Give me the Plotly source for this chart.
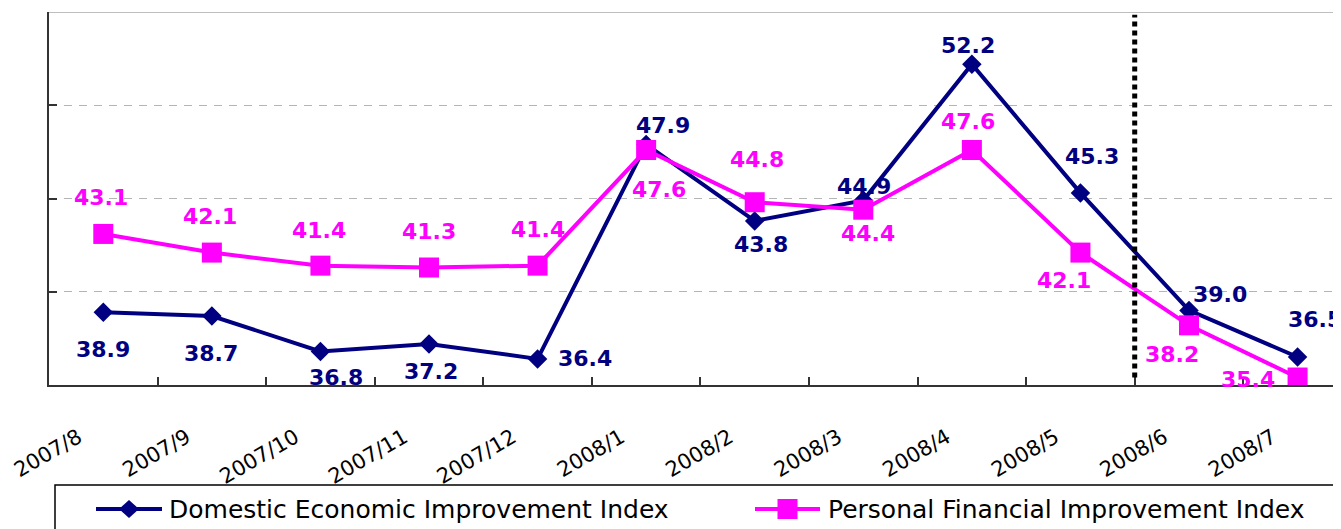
import plotly.graph_objects as go

categories = ["2007/8", "2007/9", "2007/10", "2007/11", "2007/12", "2008/1",
              "2008/2", "2008/3", "2008/4", "2008/5", "2008/6", "2008/7"]
domestic = [38.9, 38.7, 36.8, 37.2, 36.4, 47.9, 43.8, 44.9, 52.2, 45.3, 39.0, 36.5]
personal = [43.1, 42.1, 41.4, 41.3, 41.4, 47.6, 44.8, 44.4, 47.6, 42.1, 38.2, 35.4]
series_names = ["Domestic Economic Improvement Index", "Personal Financial Improvement Index"]

NAVY = "#000080"
MAGENTA = "#FF00FF"

# label offsets (pixels) for the data labels
dom_dx = [0, -1, 16, 2, 47, 17, 6, 1, -4, 12, 31, 17]
dom_dy = [-37, -37, -26, -28, 0, 19, -24, 14, 19, 36, 16, 38]
per_dx = [-2, -2, -1, 0, 0, 13, 2, 5, -4, -16, -17, -50]
per_dy = [36, 36, 35, 36, 36, -39, 43, -24, 29, -28, -29, -2]

# page offset (default body margin) and figure geometry (pixels)
OFF = 8
W, H = 1341 - OFF, 529 - OFF
ML, MR, MT, MB = 49 - OFF, 0, 12 - OFF, 144
PW, PH = W - ML - MR, H - MT - MB


def px(x):
    """screen x -> paper x"""
    return (x - OFF - ML) / PW


def py(y):
    """screen y -> paper y"""
    return (H - MB - (y - OFF)) / PH


fig = go.Figure()
fig.add_trace(go.Scatter(
    x=categories, y=domestic, name=series_names[0], mode="lines+markers",
    line=dict(color=NAVY, width=4),
    marker=dict(symbol="diamond", size=15, color=NAVY),
))
fig.add_trace(go.Scatter(
    x=categories, y=personal, name=series_names[1], mode="lines+markers",
    line=dict(color=MAGENTA, width=4),
    marker=dict(symbol="square", size=20, color=MAGENTA),
))

annotations = []
for vals, dxs, dys, col in [(domestic, dom_dx, dom_dy, NAVY), (personal, per_dx, per_dy, MAGENTA)]:
    for c, v, dx, dy in zip(categories, vals, dxs, dys):
        annotations.append(dict(
            x=c, y=v, xref="x", yref="y", text=f"{v:.1f}", showarrow=False,
            xshift=dx, yshift=dy,
            font=dict(family="DejaVu Sans", size=22, color=col, weight="bold"),
        ))

shapes = [
    # solid top border line
    dict(type="line", xref="paper", yref="y", x0=0, x1=1, y0=55, y1=55,
         line=dict(color="#BEBEBE", width=2), layer="above"),
    # dotted vertical separator
    dict(type="line", xref="x", yref="y", x0=9.5, x1=9.5, y0=35.4, y1=54.85,
         line=dict(color="black", width=5, dash="5px,4px"), layer="above"),
    # legend box
    dict(type="rect", xref="paper", yref="paper", x0=px(55), x1=px(1400), y0=py(560), y1=py(485),
         line=dict(color="black", width=1.5), fillcolor="rgba(0,0,0,0)"),
]

# manual legend entries
legend_items = [
    (series_names[0], NAVY, "M-10,0L0,9L10,0L0,-9Z", 96, 162, 167),
    (series_names[1], MAGENTA, "M-10,-10L10,-10L10,10L-10,10Z", 755, 820, 826),
]
LEG_Y = 509
for name, col, path, lx0, lx1, tx in legend_items:
    shapes.append(dict(type="line", xref="paper", yref="paper",
                       x0=px(lx0), x1=px(lx1), y0=py(LEG_Y), y1=py(LEG_Y),
                       line=dict(color=col, width=4)))
    shapes.append(dict(type="path", xref="paper", yref="paper",
                       xsizemode="pixel", ysizemode="pixel",
                       xanchor=px((lx0 + lx1) / 2), yanchor=py(LEG_Y),
                       path=path, fillcolor=col, line=dict(color=col, width=0)))
    annotations.append(dict(
        x=px(tx), y=py(LEG_Y), xref="paper", yref="paper", xanchor="left", yanchor="middle",
        text=name, showarrow=False,
        font=dict(family="DejaVu Sans", size=25, color="black"),
    ))

fig.update_layout(
    width=W, height=H,
    margin=dict(l=ML, r=MR, t=MT, b=MB),
    paper_bgcolor="white", plot_bgcolor="white",
    font=dict(family="DejaVu Sans", color="black"),
    annotations=annotations,
    shapes=shapes,
    showlegend=False,
)
fig.update_xaxes(
    type="category", range=[-0.5, 11.4], automargin=False,
    showline=True, linecolor="#333333", linewidth=2,
    ticks="inside", tickson="boundaries", ticklen=8, tickcolor="#333333", tickwidth=1.5,
    tickangle=-30, tickfont=dict(family="DejaVu Sans", size=21, color="black"),
    ticklabelshift=-25, ticklabelstandoff=30,
    showgrid=False, zeroline=False,
)
fig.update_yaxes(
    range=[35, 55], dtick=5, tick0=35, automargin=False,
    showline=True, linecolor="#333333", linewidth=2,
    ticks="inside", ticklen=8, tickcolor="#333333", tickwidth=1.5,
    showticklabels=False,
    showgrid=True, gridcolor="#B4B4B4", gridwidth=1.3, griddash="8px,7px",
    zeroline=False,
)

fig.write_html("out.html")
